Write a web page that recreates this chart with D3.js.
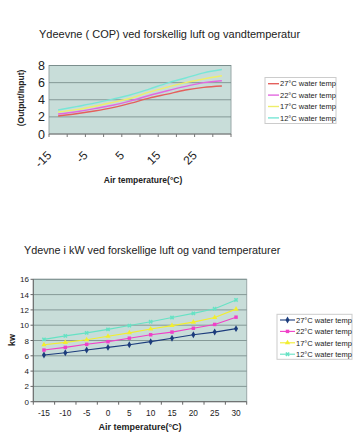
<!DOCTYPE html>
<html><head><meta charset="utf-8">
<script src="https://cdn.jsdelivr.net/npm/d3@7"></script>
<style>body{margin:0;background:#fff}svg{display:block;font-family:"Liberation Sans",Arial,sans-serif}</style>
</head><body>
<svg id="c" width="360" height="440"></svg>
<script>
// ---- data ----
const categories = [-15,-10,-5,0,5,10,15,20,25,30];
const seriesNames = ["27°C water temp","22°C water temp","17°C water temp","12°C water temp"];
const bottomNames = ["27°C water temp","22°C water temp","17°C water temp","12°C  water temp"];
const cop27 = [2.1,2.37,2.69,3.08,3.6,4.19,4.66,5.14,5.45,5.6];
const cop22 = [2.33,2.6,2.96,3.36,3.87,4.5,5.05,5.56,6.0,6.22];
const cop17 = [2.57,2.84,3.24,3.7,4.18,4.89,5.48,6.0,6.43,6.8];
const cop12 = [2.8,3.2,3.6,4.07,4.58,5.24,5.95,6.54,7.14,7.53];
const kw27 = [6.1,6.4,6.75,7.1,7.45,7.85,8.3,8.75,9.1,9.55];
const kw22 = [6.75,7.1,7.5,7.85,8.3,8.75,9.1,9.6,10.1,11.05];
const kw17 = [7.45,7.75,8.1,8.55,9.0,9.5,9.95,10.4,11.0,12.1];
const kw12 = [8.15,8.6,9.0,9.45,9.95,10.45,11.0,11.55,12.15,13.3];
const topYTicks = [0,2,4,6,8];
const bottomYTicks = [0,2,4,6,8,10,12,14,16];
const topTitle = "Ydeevne ( COP) ved forskellig luft og vandtemperatur";
const bottomTitle = "Ydevne i kW ved forskellige luft og vand temperaturer";

const svg = d3.select("#c");
const plotBg = "#c8ddd9", gridCol = "#748886";

// ================= TOP CHART =================
{
  const topColors = ["#e4605c","#e268e0","#eeee6a","#78e6d6"];
  const x = d3.scaleBand().domain(categories).range([49,231]);
  const y = d3.scaleLinear().domain([0,8]).range([134,65.5]);
  const g = svg.append("g");
  g.append("text").attr("x",39).attr("y",38).attr("font-size",11).attr("fill","#222").text(topTitle);
  g.append("rect").attr("x",49).attr("y",y(8)).attr("width",182).attr("height",y(0)-y(8)).attr("fill",plotBg).attr("stroke","#9aa8a8");
  g.selectAll(".gl").data(topYTicks.slice(1)).join("line").attr("x1",49).attr("x2",231)
    .attr("y1",d=>y(d)).attr("y2",d=>y(d)).attr("stroke",gridCol).attr("stroke-width",0.8);
  g.append("line").attr("x1",49).attr("x2",231).attr("y1",y(0)).attr("y2",y(0)).attr("stroke","#777");
  // ticks between categories
  const bounds = categories.map(c=>x(c)).concat([x(categories[categories.length-1])+x.bandwidth()]);
  g.selectAll(".tk").data(bounds).join("line").attr("x1",d=>d).attr("x2",d=>d)
    .attr("y1",y(0)).attr("y2",y(0)+3).attr("stroke","#777");
  g.selectAll(".yl").data(topYTicks).join("text").attr("x",45).attr("y",d=>y(d)+4.5)
    .attr("text-anchor","end").attr("font-size",12.5).attr("fill","#222").text(d=>d);
  g.selectAll(".xl").data(categories.filter((c,i)=>i%2===0)).join("text")
    .attr("transform",d=>`translate(${x(d)+x.bandwidth()/2-6},156) rotate(-45)`)
    .attr("text-anchor","end").attr("font-size",12).attr("fill","#222").text(d=>d);
  g.append("text").attr("transform","translate(24,98) rotate(-90)").attr("text-anchor","middle")
    .attr("font-size",8.5).attr("font-weight","bold").attr("fill","#222").text("(Output/Input)");
  g.append("text").attr("x",143).attr("y",183).attr("text-anchor","middle")
    .attr("font-size",8.5).attr("font-weight","bold").attr("fill","#222").text("Air temperature(°C)");
  const line = d3.line().x((d,i)=>x(categories[i])+x.bandwidth()/2).y(d=>y(d)).curve(d3.curveCatmullRom);
  [cop27,cop22,cop17,cop12].forEach((s,k)=>{
    g.append("path").attr("d",line(s)).attr("fill","none").attr("stroke",topColors[k]).attr("stroke-width",1.4);
  });
  // legend
  g.append("rect").attr("x",265).attr("y",77.5).attr("width",71).attr("height",46).attr("fill","#fff").attr("stroke","#ccc");
  seriesNames.forEach((n,k)=>{
    const yy = 83.7 + k*11.4;
    g.append("line").attr("x1",268).attr("x2",279).attr("y1",yy).attr("y2",yy).attr("stroke",topColors[k]).attr("stroke-width",1.4);
    g.append("text").attr("x",280).attr("y",yy+2.7).attr("font-size",7.5).attr("fill","#222").text(n);
  });
}

// ================= BOTTOM CHART =================
{
  const botColors = ["#1c3c7c","#f040c8","#f2ee30","#66e2c4"];
  const x = d3.scaleBand().domain(categories).range([33.3,246.7]);
  const y = d3.scaleLinear().domain([0,16]).range([401.7,279.3]);
  const g = svg.append("g");
  g.append("text").attr("x",24).attr("y",254).attr("font-size",10.8).attr("fill","#222").text(bottomTitle);
  g.append("rect").attr("x",33.3).attr("y",y(16)).attr("width",213.4).attr("height",y(0)-y(16)).attr("fill",plotBg).attr("stroke","#9aa8a8");
  g.selectAll(".gl").data(bottomYTicks.slice(1)).join("line").attr("x1",33.3).attr("x2",246.7)
    .attr("y1",d=>y(d)).attr("y2",d=>y(d)).attr("stroke",gridCol).attr("stroke-width",0.8);
  g.append("line").attr("x1",33.3).attr("x2",246.7).attr("y1",y(0)).attr("y2",y(0)).attr("stroke","#666");
  g.append("line").attr("x1",33.3).attr("x2",33.3).attr("y1",y(0)).attr("y2",y(16)).attr("stroke","#666");
  g.selectAll(".ytk").data(bottomYTicks).join("line").attr("x1",30.5).attr("x2",33.3)
    .attr("y1",d=>y(d)).attr("y2",d=>y(d)).attr("stroke","#666");
  const bounds = categories.map(c=>x(c)).concat([x(categories[categories.length-1])+x.bandwidth()]);
  g.selectAll(".tk").data(bounds).join("line").attr("x1",d=>d).attr("x2",d=>d)
    .attr("y1",y(0)).attr("y2",y(0)+3).attr("stroke","#666");
  g.selectAll(".yl").data(bottomYTicks).join("text").attr("x",29).attr("y",d=>y(d)+3)
    .attr("text-anchor","end").attr("font-size",8).attr("fill","#222").text(d=>d);
  g.selectAll(".xl").data(categories).join("text").attr("x",d=>x(d)+x.bandwidth()/2).attr("y",416)
    .attr("text-anchor","middle").attr("font-size",8.3).attr("fill","#222").text(d=>d);
  g.append("text").attr("transform","translate(15,340) rotate(-90)").attr("text-anchor","middle")
    .attr("font-size",9).attr("font-weight","bold").attr("fill","#222").text("kw");
  g.append("text").attr("x",140).attr("y",430).attr("text-anchor","middle")
    .attr("font-size",9).attr("font-weight","bold").attr("fill","#222").text("Air temperature(°C)");
  const cx = c=>x(c)+x.bandwidth()/2;
  const line = d3.line().x((d,i)=>cx(categories[i])).y(d=>y(d));
  const symTypes = [d3.symbolDiamond, d3.symbolSquare, d3.symbolTriangle, d3.symbolCross];
  const symSizes = [14,12,12,12];
  [kw27,kw22,kw17,kw12].forEach((s,k)=>{
    g.append("path").attr("d",line(s)).attr("fill","none").attr("stroke",botColors[k]).attr("stroke-width",1.1);
    g.selectAll(".m"+k).data(s).join("path")
      .attr("transform",(d,i)=>`translate(${cx(categories[i])},${y(d)})${k===3?" rotate(45)":""}`)
      .attr("d",d3.symbol().type(symTypes[k]).size(symSizes[k])).attr("fill",botColors[k]);
  });
  // legend
  g.append("rect").attr("x",277).attr("y",314.3).attr("width",75).attr("height",45).attr("fill","#fff").attr("stroke","#ccc");
  bottomNames.forEach((n,k)=>{
    const yy = 320 + k*11.4;
    g.append("line").attr("x1",280).attr("x2",295).attr("y1",yy).attr("y2",yy).attr("stroke",botColors[k]).attr("stroke-width",1.1);
    g.append("path").attr("transform",`translate(287.5,${yy})${k===3?" rotate(45)":""}`)
      .attr("d",d3.symbol().type(symTypes[k]).size(symSizes[k])).attr("fill",botColors[k]);
    g.append("text").attr("x",296).attr("y",yy+2.7).attr("font-size",7.5).attr("fill","#222").text(n);
  });
}
</script>
</body></html>
